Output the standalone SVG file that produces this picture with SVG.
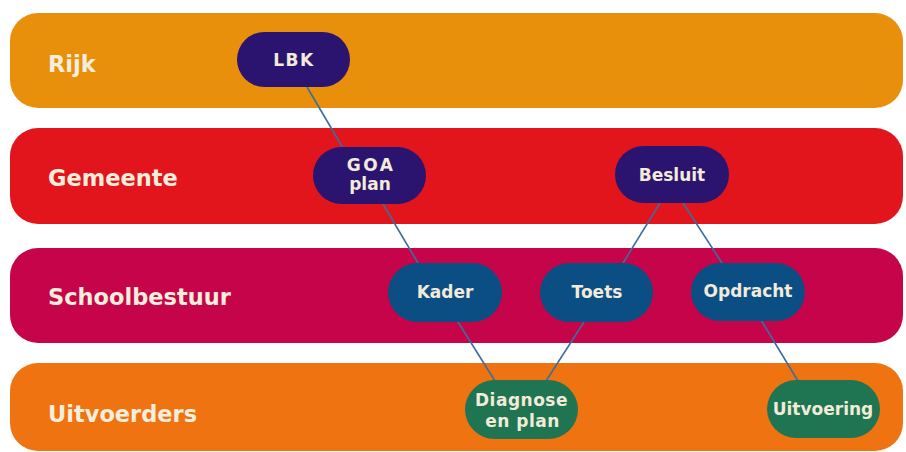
<svg xmlns="http://www.w3.org/2000/svg" width="906" height="452" viewBox="0 0 906 452">
<style>
.band-label{font-family:"DejaVu Sans","Liberation Sans",sans-serif;font-weight:bold;font-size:22.5px;fill:#F6EEDC}
.nt{font-family:"DejaVu Sans","Liberation Sans",sans-serif;font-weight:bold;font-size:17px;fill:#F2EBDA;text-anchor:middle}
.n1{fill:#2A1470}
.n2{fill:#0B4E84}
.n3{fill:#1F7452}
.edge{stroke:#3C6E9C;stroke-width:1.6;fill:none}
</style>
<rect width="906" height="452" fill="#FFFFFF"/>
<g id="band-rijk">
<rect x="10" y="13" width="893" height="95" rx="28" fill="#E8900C"/>
<text class="band-label" x="48" y="72">Rijk</text>
</g>
<g id="band-gemeente">
<rect x="10" y="128" width="893" height="96" rx="28" fill="#E2141C"/>
<text class="band-label" x="48" y="186">Gemeente</text>
</g>
<g id="band-schoolbestuur">
<rect x="10" y="248" width="893" height="95" rx="28" fill="#C5044A"/>
<text class="band-label" x="48" y="305">Schoolbestuur</text>
</g>
<g id="band-uitvoerders">
<rect x="10" y="363" width="893" height="88" rx="28" fill="#F07312"/>
<text class="band-label" x="48" y="422">Uitvoerders</text>
</g>
<g id="connectors">
<line class="edge" x1="307" y1="87" x2="343" y2="148"/>
<line class="edge" x1="383" y1="204" x2="418" y2="263"/>
<line class="edge" x1="660" y1="203" x2="623" y2="263"/>
<line class="edge" x1="683" y1="203" x2="722" y2="263"/>
<line class="edge" x1="458" y1="322" x2="495" y2="381"/>
<line class="edge" x1="584" y1="322" x2="546" y2="381"/>
<line class="edge" x1="761" y1="320" x2="798" y2="381"/>
</g>
<g id="node-lbk">
<rect class="n1" x="237" y="32" width="113" height="55" rx="27.5"/>
<text class="nt" x="294" y="66" style="letter-spacing:1.5px">LBK</text>
</g>
<g id="node-goa">
<rect class="n1" x="313" y="147" width="113" height="57" rx="28.5"/>
<text class="nt" x="371" y="171" style="letter-spacing:2.5px">GOA</text>
<text class="nt" x="370" y="190">plan</text>
</g>
<g id="node-besluit">
<rect class="n1" x="615" y="146" width="114" height="57" rx="28.5"/>
<text class="nt" x="672" y="181">Besluit</text>
</g>
<g id="node-kader">
<rect class="n2" x="388" y="263" width="114" height="59" rx="29.5"/>
<text class="nt" x="445" y="298">Kader</text>
</g>
<g id="node-toets">
<rect class="n2" x="540" y="263" width="113" height="59" rx="29.5"/>
<text class="nt" x="597" y="298">Toets</text>
</g>
<g id="node-opdracht">
<rect class="n2" x="691" y="263" width="114" height="58" rx="29"/>
<text class="nt" x="748" y="297">Opdracht</text>
</g>
<g id="node-diagnose">
<rect class="n3" x="465" y="380" width="113" height="59" rx="29.5"/>
<text class="nt" x="521.5" y="406" style="letter-spacing:0.5px">Diagnose</text>
<text class="nt" x="522.5" y="427" style="letter-spacing:0.5px">en plan</text>
</g>
<g id="node-uitvoering">
<rect class="n3" x="767" y="380" width="113" height="58" rx="29"/>
<text class="nt" x="823" y="415">Uitvoering</text>
</g>
</svg>
